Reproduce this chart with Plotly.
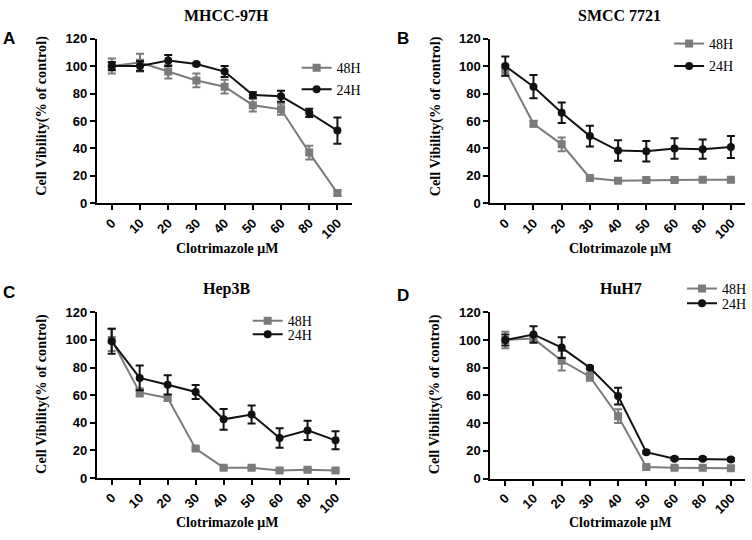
import plotly.graph_objects as go

# ---------------- data ----------------
conc = ["0", "10", "20", "30", "40", "50", "60", "80", "100"]
panel_titles = ["MHCC-97H", "SMCC 7721", "Hep3B", "HuH7"]
panel_letters = ["A", "B", "C", "D"]
series_names = ["48H", "24H"]

a48 = [100, 102.5, 96, 89.5, 85, 71.5, 68.5, 37, 7.5]
a48_err = [5.5, 6.5, 5, 5, 5, 4.5, 4, 5, 2]
a24 = [100, 100, 104, 101.5, 96, 79, 78, 66, 53]
a24_err = [3, 3.5, 4, 1, 4, 2, 4, 3, 9.5]

b48 = [97, 58, 43, 18.5, 16.5, 17, 17, 17.3, 17.3]
b48_err = [4, 2, 5, 1, 1, 1, 1, 1, 1]
b24 = [100, 85, 66, 49, 38.5, 38, 40, 39.5, 41]
b24_err = [7, 8.5, 7.5, 7.5, 7.5, 7.5, 7.5, 7, 8]

c48 = [100, 62, 58, 21.3, 7.5, 7.5, 5.5, 6, 5.5]
c48_err = [8, 3, 2, 1, 1, 1, 1, 1, 1]
c24 = [99, 72.5, 67.5, 62.3, 42.5, 46, 29, 34.5, 27.3]
c24_err = [9, 9, 7, 5, 7.5, 6.5, 7, 7, 6.5]

d48 = [100, 101, 85, 73.5, 45, 8.3, 7.8, 7.8, 7.5]
d48_err = [6, 2, 7, 3, 5, 1, 1, 1, 1]
d24 = [100, 104, 94.5, 80, 59.5, 19, 14.3, 14.3, 13.8]
d24_err = [4, 6, 7.5, 1, 6, 1, 1, 1, 1]

panels = [
    (a48, a48_err, a24, a24_err),
    (b48, b48_err, b24, b24_err),
    (c48, c48_err, c24, c24_err),
    (d48, d48_err, d24, d24_err),
]

# ---------------- layout geometry (pixels) ----------------
W, H = 752, 540
axes_px = [
    dict(x0=97, x1=352, ytop=32.5, ybot=202),
    dict(x0=491, x1=746, ytop=32.5, ybot=202),
    dict(x0=97, x1=350, ytop=314, ybot=484.5),
    dict(x0=491, x1=746, ytop=314, ybot=485),
]
legend_px = [
    (337, 63, 85),
    (710, 38, 61),
    (288, 323, 337),
    (723, 290, 305),
]
title_px = [(227, 9), (620, 9), (227, 290), (622, 290)]
letter_px = [(9, 32), (404, 32), (9, 294), (404, 297)]
ytitle_px = [(42, 112), (436, 112), (42, 398), (436, 398)]
xtitle_px = [(227, 248), (621, 248), (227, 530), (621, 530)]

colors = ["#7b7b7b", "#111111"]
symbols = ["square", "circle"]

SERIF = "Liberation Serif"
SANS = "Liberation Sans"

fig = go.Figure()
layout = dict(
    width=W, height=H,
    margin=dict(l=0, r=0, t=0, b=0),
    paper_bgcolor="white", plot_bgcolor="white",
    showlegend=True,
)

def px(x):
    return x / W

def py(y):
    return 1 - y / H

annotations = []
legend_idx = 0
for i, (s48, e48, s24, e24) in enumerate(panels):
    n = "" if i == 0 else str(i + 1)
    g = axes_px[i]
    layout["xaxis" + n] = dict(
        domain=[px(g["x0"]), px(g["x1"])],
        anchor="y" + n,
        type="category",
        categoryorder="array", categoryarray=conc,
        range=[-0.53, 8.5],
        showline=True, linecolor="black", linewidth=2,
        ticks="outside", ticklen=5, tickwidth=2, tickcolor="black",
        tickangle=-45,
        tickfont=dict(family=SANS, size=13, color="black", weight="bold"),
        showgrid=False, zeroline=False,
    )
    layout["yaxis" + n] = dict(
        domain=[py(g["ybot"]), py(g["ytop"])],
        anchor="x" + n,
        range=[0, 120], tickvals=[0, 20, 40, 60, 80, 100, 120],
        showline=True, linecolor="black", linewidth=2,
        ticks="outside", ticklen=5, tickwidth=2, tickcolor="black",
        tickfont=dict(family=SANS, size=13, color="black", weight="bold"),
        showgrid=False, zeroline=False,
    )
    tx, y48, y24 = legend_px[i]
    for k, (vals, errs) in enumerate([(s48, e48), (s24, e24)]):
        legend_idx += 1
        lname = "legend" if legend_idx == 1 else "legend" + str(legend_idx)
        fig.add_trace(go.Scatter(
            x=conc, y=vals,
            name=series_names[k],
            mode="lines+markers",
            line=dict(color=colors[k], width=2),
            marker=dict(symbol=symbols[k], size=8, color=colors[k]),
            error_y=dict(type="data", array=errs, visible=True,
                         color=colors[k], thickness=2, width=4),
            xaxis="x" + n, yaxis="y" + n,
            legend=lname,
        ))
        ly = y48 if k == 0 else y24
        layout[lname] = dict(
            x=px(tx - 40), y=py(ly), xanchor="left", yanchor="middle",
            bgcolor="rgba(0,0,0,0)", borderwidth=0,
            font=dict(family=SERIF, size=14, color="black"),
            itemclick=False, itemdoubleclick=False,
        )
    annotations.append(dict(
        text=panel_titles[i], x=px(title_px[i][0]), y=py(title_px[i][1]),
        xref="paper", yref="paper", showarrow=False,
        xanchor="center", yanchor="middle",
        font=dict(family=SERIF, size=16, color="black", weight="bold"),
    ))
    annotations.append(dict(
        text=panel_letters[i], x=px(letter_px[i][0]), y=py(letter_px[i][1]),
        xref="paper", yref="paper", showarrow=False,
        xanchor="center", yanchor="middle",
        font=dict(family=SANS, size=17, color="black", weight="bold"),
    ))
    annotations.append(dict(
        text="Cell Vibility(% of control)", x=px(ytitle_px[i][0]), y=py(ytitle_px[i][1]),
        xref="paper", yref="paper", showarrow=False, textangle=-90,
        xanchor="center", yanchor="middle",
        font=dict(family=SERIF, size=14.3, color="black", weight="bold"),
    ))
    annotations.append(dict(
        text="Clotrimazole μM", x=px(xtitle_px[i][0]), y=py(xtitle_px[i][1]),
        xref="paper", yref="paper", showarrow=False,
        xanchor="center", yanchor="middle",
        font=dict(family=SERIF, size=14, color="black", weight="bold"),
    ))

layout["annotations"] = annotations
fig.update_layout(**layout)
fig.write_html(
    "out.html",
    config={"displayModeBar": False},
    post_script="document.body.style.margin='0';document.body.style.overflow='hidden';",
)
